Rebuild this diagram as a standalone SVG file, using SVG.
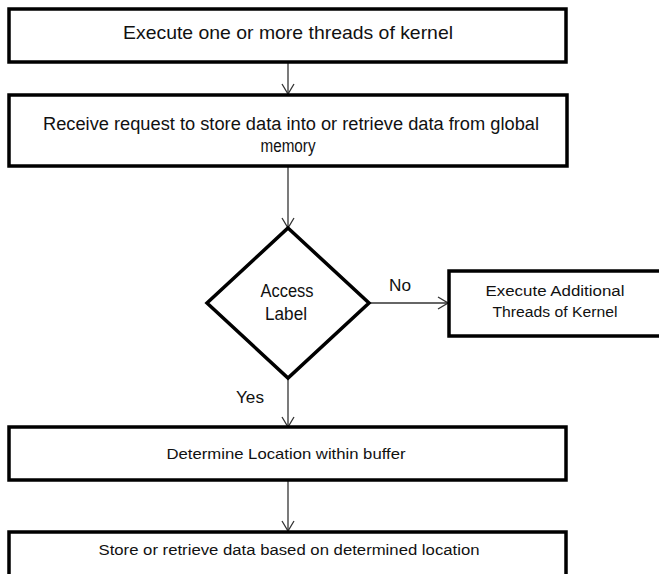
<svg xmlns="http://www.w3.org/2000/svg" width="659" height="574" viewBox="0 0 659 574">
<style>
.box{fill:#fff;stroke:#000;stroke-width:3.5}
.t{font-family:"Liberation Sans",Arial,sans-serif;fill:#111;text-anchor:middle}
.c{fill:none;stroke:#333;stroke-width:1.3}
</style>
<defs>
<marker id="ah" viewBox="0 0 12 14" refX="11" refY="7" markerWidth="12" markerHeight="14" markerUnits="userSpaceOnUse" orient="auto">
<path d="M1,1 L11,7 L1,13" fill="none" stroke="#333" stroke-width="1.3"/>
</marker>
</defs>
<rect width="659" height="574" fill="#fff"/>
<g id="connectors">
<line class="c" x1="288" y1="62" x2="288" y2="94" marker-end="url(#ah)"/>
<line class="c" x1="288" y1="166" x2="288" y2="228" marker-end="url(#ah)"/>
<line class="c" x1="369" y1="303" x2="448" y2="303" marker-end="url(#ah)"/>
<line class="c" x1="288" y1="378" x2="288" y2="427" marker-end="url(#ah)"/>
<line class="c" x1="288" y1="480" x2="288" y2="531" marker-end="url(#ah)"/>
<text class="t" x="400" y="291" font-size="17" textLength="22" lengthAdjust="spacingAndGlyphs">No</text>
<text class="t" x="250" y="403" font-size="17" textLength="28" lengthAdjust="spacingAndGlyphs">Yes</text>
</g>
<g id="n1">
<rect class="box" x="9" y="9" width="557" height="53"/>
<text class="t" x="288" y="39" font-size="18.5" textLength="330" lengthAdjust="spacingAndGlyphs">Execute one or more threads of kernel</text>
</g>
<g id="n2">
<rect class="box" x="9" y="95" width="558" height="71"/>
<text class="t" x="291" y="130" font-size="18" textLength="496" lengthAdjust="spacingAndGlyphs">Receive request to store data into or retrieve data from global</text>
<text class="t" x="288" y="152" font-size="18" textLength="55" lengthAdjust="spacingAndGlyphs">memory</text>
</g>
<g id="n3">
<polygon points="288,228 369,303 288,378 207,303" fill="#fff" stroke="#000" stroke-width="3.5" stroke-linejoin="miter"/>
<text class="t" x="287" y="297" font-size="17.5" textLength="53" lengthAdjust="spacingAndGlyphs">Access</text>
<text class="t" x="286" y="320" font-size="17.5" textLength="42" lengthAdjust="spacingAndGlyphs">Label</text>
</g>
<g id="n4">
<rect class="box" x="449" y="271" width="220" height="65"/>
<text class="t" x="555" y="296" font-size="15.5" textLength="139" lengthAdjust="spacingAndGlyphs">Execute  Additional</text>
<text class="t" x="555" y="317" font-size="15.5" textLength="125" lengthAdjust="spacingAndGlyphs">Threads of Kernel</text>
</g>
<g id="n5">
<rect class="box" x="9" y="427" width="557" height="53"/>
<text class="t" x="286" y="459" font-size="14.5" textLength="239" lengthAdjust="spacingAndGlyphs">Determine  Location within buffer</text>
</g>
<g id="n6">
<rect class="box" x="9" y="532" width="557" height="60"/>
<text class="t" x="289" y="555" font-size="15.5" textLength="381" lengthAdjust="spacingAndGlyphs">Store or retrieve data based on determined  location</text>
</g>
</svg>
